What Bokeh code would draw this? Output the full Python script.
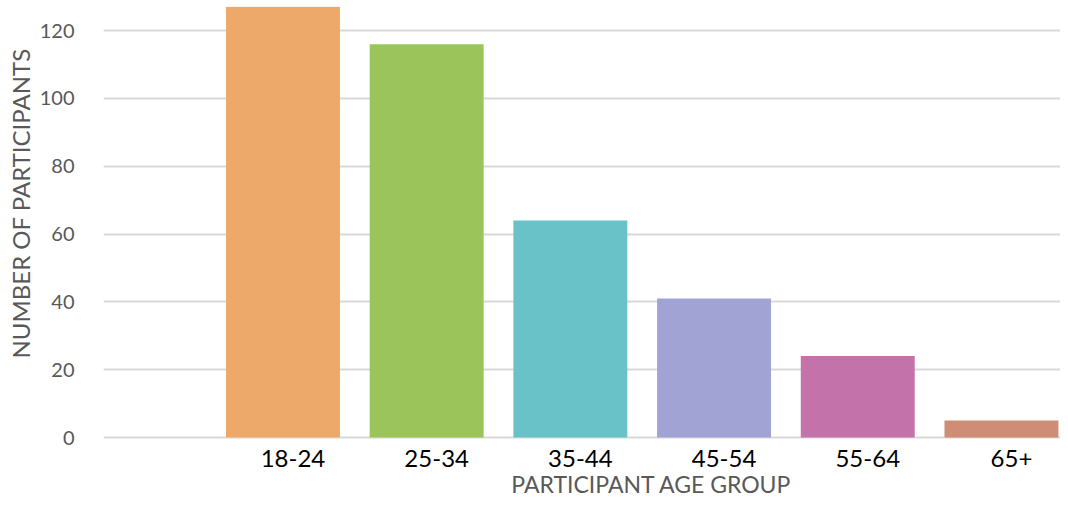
from bokeh.plotting import figure
from bokeh.models import ColumnDataSource, Range1d, FixedTicker, Title, Label
from bokeh.core.properties import value
from bokeh.embed import file_html
from bokeh.resources import INLINE

categories = ["18-24", "25-34", "35-44", "45-54", "55-64", "65+"]
participants = [127, 116, 64, 41, 24, 5]
colors = ["#EDA96A", "#9BC45B", "#69C2C7", "#A0A3D3", "#C472AA", "#CF8D76"]
y_ticks = [0, 20, 40, 60, 80, 100, 120]

FONT = "Lato"
idx = list(range(len(categories)))

src = ColumnDataSource(dict(x=idx, top=participants, color=colors, cat=categories,
                            base=[0] * len(categories)))

p = figure(width=1060, height=499, output_backend="svg", toolbar_location=None,
           x_range=Range1d(-1.249, 5.411), y_range=Range1d(-18.28, 127.1),
           x_axis_location=None,
           min_border_left=103, min_border_right=0, min_border_top=6, min_border_bottom=0)
p.outline_line_color = None
p.background_fill_color = "white"
p.border_fill_color = "white"

p.vbar(x="x", top="top", bottom=0, width=0.793, fill_color="color", line_color=None, source=src)

# grid
p.xgrid.grid_line_color = None
p.ygrid.grid_line_color = "#D9D9D9"
p.ygrid.grid_line_width = 2
p.yaxis.ticker = FixedTicker(ticks=y_ticks)

# y axis
p.yaxis.axis_line_color = None
p.yaxis.major_tick_line_color = None
p.yaxis.minor_tick_line_color = None
p.yaxis.major_label_standoff = 23
p.yaxis.major_label_text_font = FONT
p.yaxis.major_label_text_font_size = "20px"
p.yaxis.major_label_text_color = "#595959"

# category labels under the bars
p.text(x="x", y="base", text="cat", source=src, x_offset=10, y_offset=21,
       text_align="center", text_baseline="middle", text_font=value(FONT),
       text_font_size="24px", text_color="#000000")

# axis titles
p.add_layout(Label(x=2.565, y=-17.9, text="PARTICIPANT AGE GROUP", text_align="center",
                   text_baseline="bottom", text_font=FONT, text_font_size="23px",
                   text_color="#595959"))
p.add_layout(Title(text="NUMBER OF PARTICIPANTS", align="left", offset=141, standoff=4,
                   text_font=FONT, text_font_size="24px", text_font_style="normal",
                   text_color="#595959"), "left")

open("out.html", "w").write(file_html(p, INLINE))
